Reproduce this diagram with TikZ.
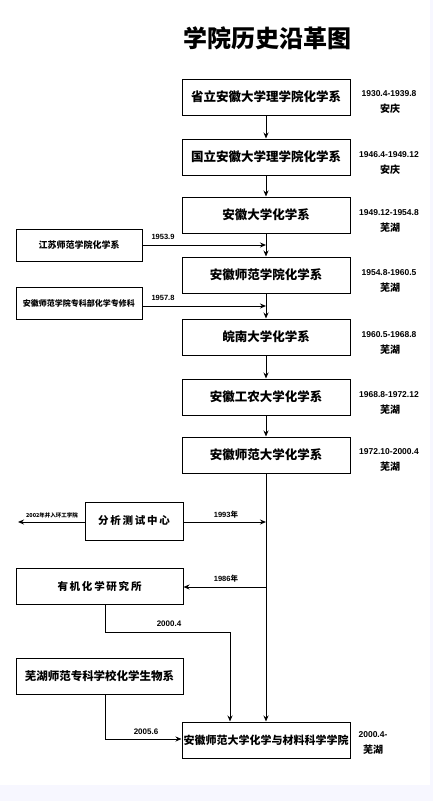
\documentclass[tikz,border=0pt]{standalone}
\usepackage{fontspec}
\setmainfont{Liberation Sans}
\newfontfamily\cjk{Noto Sans CJK SC}
\usetikzlibrary{positioning,arrows.meta}

\tikzset{
    mainbox/.style={draw, line width=1pt, minimum width=168pt, minimum height=36pt,
        inner sep=1pt, font=\cjk\bfseries\fontsize{12.5}{14}\selectfont},
    sidebox/.style={draw, line width=1pt, minimum height=32pt, inner sep=1pt,
        font=\cjk\bfseries\fontsize{9}{11}\selectfont},
    datetext/.style={font=\bfseries\fontsize{8.5}{9}\selectfont, inner sep=0pt},
    citytext/.style={font=\cjk\bfseries\fontsize{10}{12}\selectfont, inner sep=0pt},
    yeartext/.style={font=\bfseries\fontsize{7.5}{8}\selectfont, inner sep=0pt},
    flow/.style={line width=1pt, -{Stealth[length=6pt,width=5pt]}},
    link/.style={line width=1pt}
}

\begin{document}
\begin{tikzpicture}[x=1pt,y=-1pt]
    \useasboundingbox (0,0) rectangle (433,801);
    \fill[white] (0,0) rectangle (433,801);
    \fill[blue!3] (0,785) rectangle (433,801);
    \fill[blue!3] (430,0) rectangle (433,801);

    \node (title) at (267,38) {\cjk\bfseries\fontsize{24}{26}\selectfont 学院历史沿革图};

    % main line of the college
    \node[mainbox] (anda1) at (266,97)  {省立安徽大学理学院化学系};
    \node[mainbox] (anda2) at (266,157) {国立安徽大学理学院化学系};
    \node[mainbox] (anda3) at (266,215) {安徽大学化学系};
    \node[mainbox] (ansy1) at (266,275) {安徽师范学院化学系};
    \node[mainbox] (wnu)   at (266,337) {皖南大学化学系};
    \node[mainbox] (gn)    at (266,397) {安徽工农大学化学系};
    \node[mainbox] (ahnu)  at (266,455) {安徽师范大学化学系};
    \node[mainbox, font=\cjk\bfseries\fontsize{11}{13}\selectfont] (college) at (266,740) {安徽师范大学化学与材料科学学院};

    % dates and places
    \node[datetext] (d1) at (389,94)  {1930.4-1939.8};
    \node[citytext] at (390,109) {安庆};
    \node[datetext] (d2) at (389,155) {1946.4-1949.12};
    \node[citytext] at (390,170) {安庆};
    \node[datetext] (d3) at (389,213) {1949.12-1954.8};
    \node[citytext] at (390,228) {芜湖};
    \node[datetext] (d4) at (389,273) {1954.8-1960.5};
    \node[citytext] at (390,288) {芜湖};
    \node[datetext] (d5) at (389,335) {1960.5-1968.8};
    \node[citytext] at (390,350) {芜湖};
    \node[datetext] (d6) at (389,395) {1968.8-1972.12};
    \node[citytext] at (390,410) {芜湖};
    \node[datetext] (d7) at (389,452) {1972.10-2000.4};
    \node[citytext] at (390,467) {芜湖};
    \node[datetext] (d8) at (373,735) {2000.4-};
    \node[citytext] at (373,750) {芜湖};

    \foreach \a/\b in {anda1/anda2, anda2/anda3, anda3/ansy1, ansy1/wnu, wnu/gn, gn/ahnu}{
        \draw[flow] (\a.south) -- (\b.north);
    }
    \draw[flow] (ahnu.south) -- (college.north);

    % side branches
    \node[sidebox, minimum width=126pt] (jsnu) at (79,245) {江苏师范学院化学系};
    \node[sidebox, minimum width=126pt, font=\cjk\bfseries\fontsize{8}{10}\selectfont] (zkb) at (79,303.5) {安徽师范学院专科部化学专修科};
    \node[sidebox, minimum width=98pt, minimum height=38pt, font=\cjk\bfseries\fontsize{10.5}{12}\selectfont] (fxcs) at (134,521) {分\,析\,测\,试\,中\,心};
    \node[sidebox, minimum width=167pt, minimum height=36pt, font=\cjk\bfseries\fontsize{10.5}{12}\selectfont] (yjs) at (99.5,586) {有\,机\,化\,学\,研\,究\,所};
    \node[sidebox, minimum width=167pt, minimum height=36pt, font=\cjk\bfseries\fontsize{11.5}{13}\selectfont] (whsz) at (99.5,676) {芜湖师范专科学校化学生物系};

    \coordinate (m1) at (266,245);
    \coordinate (m2) at (266,306);
    \coordinate (m3) at (266,522);
    \coordinate (m4) at (266,587);
    \coordinate (out) at (18,522);
    \coordinate (c1) at (105,632);
    \coordinate (c2) at (230,632);
    \coordinate (c3) at (105,739);

    \draw[flow] (jsnu.east |- m1) -- (m1);
    \node[yeartext] at (163,237) {1953.9};
    \draw[flow] (zkb.east |- m2) -- (m2);
    \node[yeartext] at (163,298) {1957.8};
    \draw[flow] (fxcs.east |- m3) -- (m3);
    \node[yeartext] at (226,515) {1993\cjk 年};
    \draw[flow] (fxcs.west |- m3) -- (out);
    \node[inner sep=0pt, font=\cjk\bfseries\fontsize{5.5}{6}\selectfont] at (52,515) {2002年并入环工学院};
    \draw[flow] (m4) -- (yjs.east |- m4);
    \node[yeartext] at (226,579) {1986\cjk 年};
    \draw[link] (yjs.south -| c1) -- (c1) -- (c2);
    \draw[flow] (c2) -- (c2 |- college.north);
    \node[yeartext, font=\bfseries\fontsize{8}{9}\selectfont] at (169,624) {2000.4};
    \draw[link] (whsz.south -| c3) -- (c3);
    \draw[flow] (c3) -- (college.west |- c3);
    \node[yeartext, font=\bfseries\fontsize{8}{9}\selectfont] at (146,732) {2005.6};
\end{tikzpicture}
\end{document}
